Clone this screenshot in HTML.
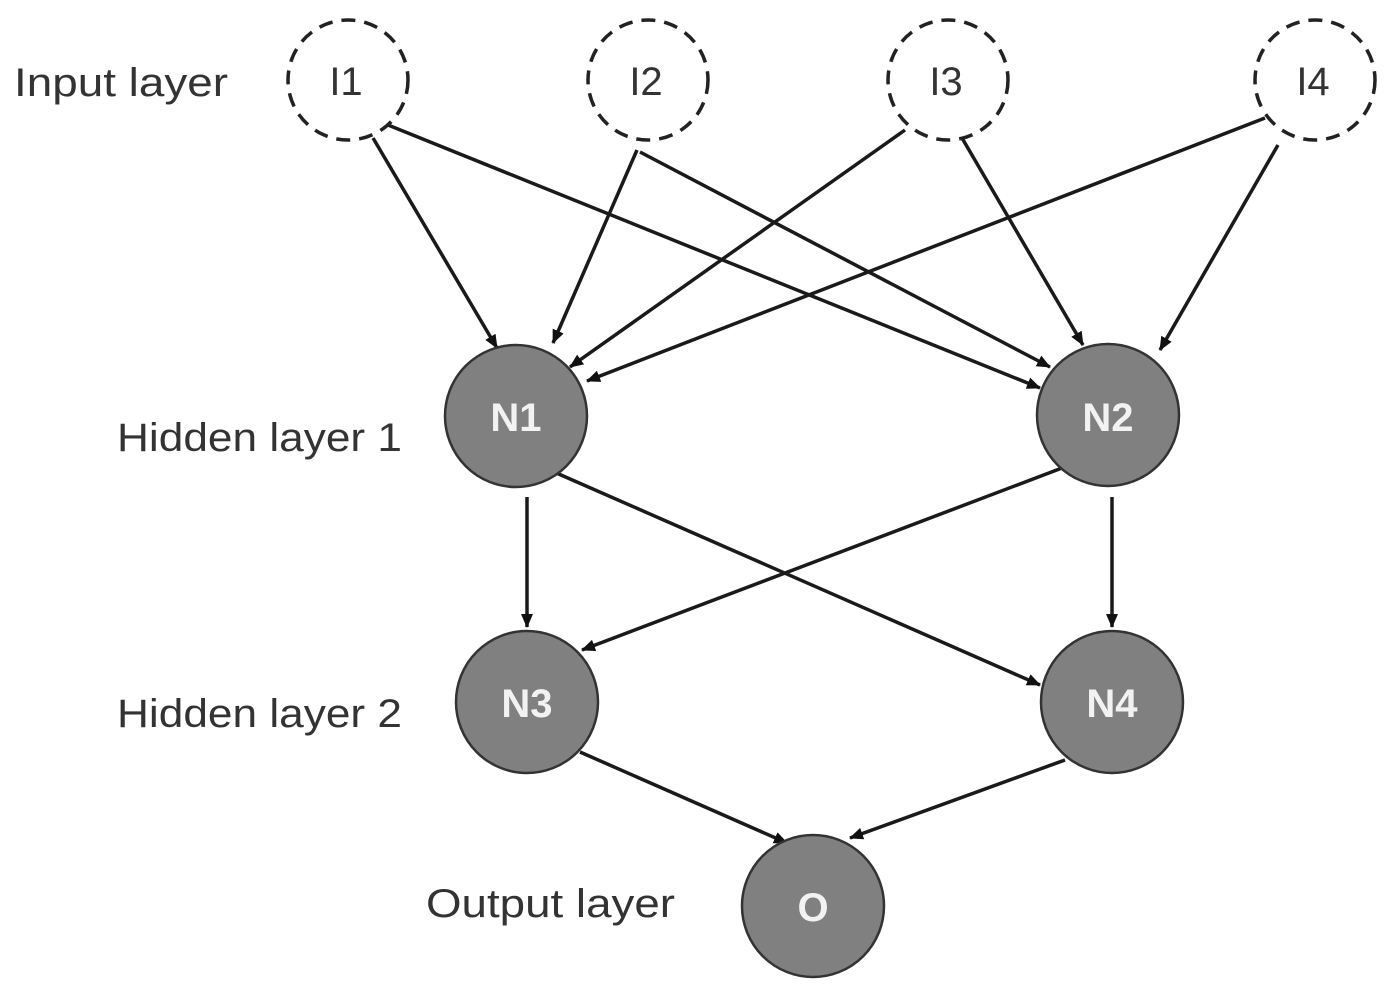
<!DOCTYPE html>
<html><head><meta charset="utf-8"><style>
html,body{margin:0;padding:0;background:#fff;}
svg{display:block;}
text{font-family:"Liberation Sans",sans-serif;}
</style></head><body>
<svg width="1392" height="992" viewBox="0 0 1392 992" xmlns="http://www.w3.org/2000/svg">
<defs>
<marker id="a" markerWidth="14" markerHeight="12" refX="13" refY="6" orient="auto" markerUnits="userSpaceOnUse" viewBox="0 0 14 12">
<path d="M0,0 L14,6 L0,12 z" fill="#111"/>
</marker>
</defs>
<g stroke="#1a1a1a" stroke-width="3.5" fill="none">
<line x1="373" y1="138" x2="497" y2="348" marker-end="url(#a)"/>
<line x1="388" y1="125" x2="1040" y2="388" marker-end="url(#a)"/>
<line x1="637" y1="150" x2="553" y2="343" marker-end="url(#a)"/>
<line x1="640" y1="152" x2="1050" y2="367" marker-end="url(#a)"/>
<line x1="905" y1="130" x2="570" y2="367" marker-end="url(#a)"/>
<line x1="962" y1="138" x2="1083" y2="345" marker-end="url(#a)"/>
<line x1="1265" y1="118" x2="587" y2="381" marker-end="url(#a)"/>
<line x1="1278" y1="145" x2="1160" y2="350" marker-end="url(#a)"/>
<line x1="527" y1="497" x2="527" y2="627" marker-end="url(#a)"/>
<line x1="545" y1="468" x2="1040" y2="685" marker-end="url(#a)"/>
<line x1="1062" y1="468" x2="582" y2="650" marker-end="url(#a)"/>
<line x1="1112" y1="497" x2="1112" y2="627" marker-end="url(#a)"/>
<line x1="580" y1="752" x2="787" y2="843" marker-end="url(#a)"/>
<line x1="1065" y1="760" x2="850" y2="838" marker-end="url(#a)"/>
</g>
<g fill="none" stroke="#222" stroke-width="3.5" stroke-dasharray="14 9">
<circle cx="348" cy="80" r="60"/>
<circle cx="648" cy="80" r="60"/>
<circle cx="948" cy="80" r="60"/>
<circle cx="1315" cy="80" r="60"/>
</g>
<g fill="#808080" stroke="#333" stroke-width="2.5">
<circle cx="516" cy="416" r="71"/>
<circle cx="1108" cy="415" r="71"/>
<circle cx="527" cy="702" r="71"/>
<circle cx="1112" cy="702" r="71"/>
<circle cx="813" cy="906" r="71"/>
</g>
<g font-size="40" fill="#333" text-anchor="middle">
<text x="346" y="95">I1</text>
<text x="646" y="95">I2</text>
<text x="946" y="95">I3</text>
<text x="1313" y="95">I4</text>
</g>
<g font-size="40" fill="#f2f2f2" text-anchor="middle" font-weight="600">
<text x="516" y="431">N1</text>
<text x="1108" y="431">N2</text>
<text x="527" y="717">N3</text>
<text x="1112" y="717">N4</text>
<text x="813" y="921">O</text>
</g>
<g font-size="40" fill="#333">
<text x="14" y="96" textLength="214" lengthAdjust="spacingAndGlyphs">Input layer</text>
<text x="117" y="451" textLength="285" lengthAdjust="spacingAndGlyphs">Hidden layer 1</text>
<text x="117" y="727" textLength="285" lengthAdjust="spacingAndGlyphs">Hidden layer 2</text>
<text x="426" y="917" textLength="249" lengthAdjust="spacingAndGlyphs">Output layer</text>
</g>
</svg>
</body></html>
